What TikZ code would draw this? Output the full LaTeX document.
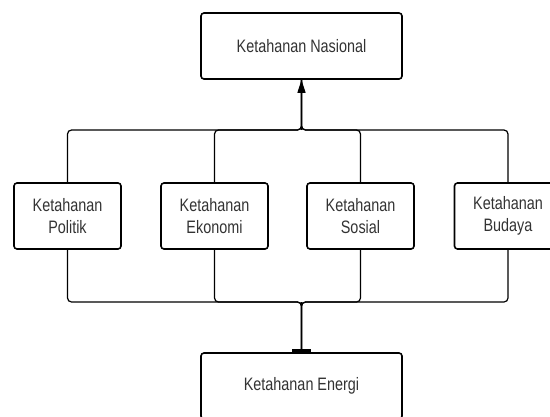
\documentclass[tikz,border=0pt]{standalone}
\usepackage{fontspec}
\setmainfont{Liberation Sans}[FakeStretch=0.8]
\usetikzlibrary{arrows.meta}
\definecolor{textgray}{HTML}{333333}
\begin{document}
\begin{tikzpicture}[x=1pt,y=-1pt,
    box/.style={shape=rectangle,draw,line width=1.6pt,rounded corners=3pt,
      minimum height=66pt,align=center,text=textgray,
      font=\fontsize{18}{22.5}\selectfont},
    widebox/.style={box,minimum width=201pt},
    smallbox/.style={box,minimum width=107pt},
    link/.style={line width=1.2pt,rounded corners=4pt}]
    \useasboundingbox (0,0) rectangle (550,416);
    \path (301.5,46) node (nasional) [widebox] {Ketahanan Nasional}
    (67.5,216) node (politik) [smallbox] {Ketahanan\\Politik}
    (214.5,216) node (ekonomi) [smallbox] {Ketahanan\\Ekonomi}
    (360.5,216) node (sosial) [smallbox] {Ketahanan\\Sosial}
    (508,216) node (budaya) [smallbox] {Ketahanan\\Budaya}
    (301.5,386) node (energi) [widebox] {Ketahanan Energi};
    \coordinate (top) at (301.5,130);
    \coordinate (bottom) at (301.5,302);
    \foreach \n in {politik,ekonomi,sosial,budaya} {
      \draw [link] (\n.north) |- (top) -- (nasional.south);
      \draw [link] (\n.south) |- (bottom) -- (energi.north);
    }
    \draw [line width=1.2pt, -{Triangle[length=13pt,width=8pt]}] (top) -- (nasional);
    \draw [line width=1.2pt, -{Rectangle[length=3pt,width=19pt]}] (bottom) -- (energi);
\end{tikzpicture}
\end{document}
